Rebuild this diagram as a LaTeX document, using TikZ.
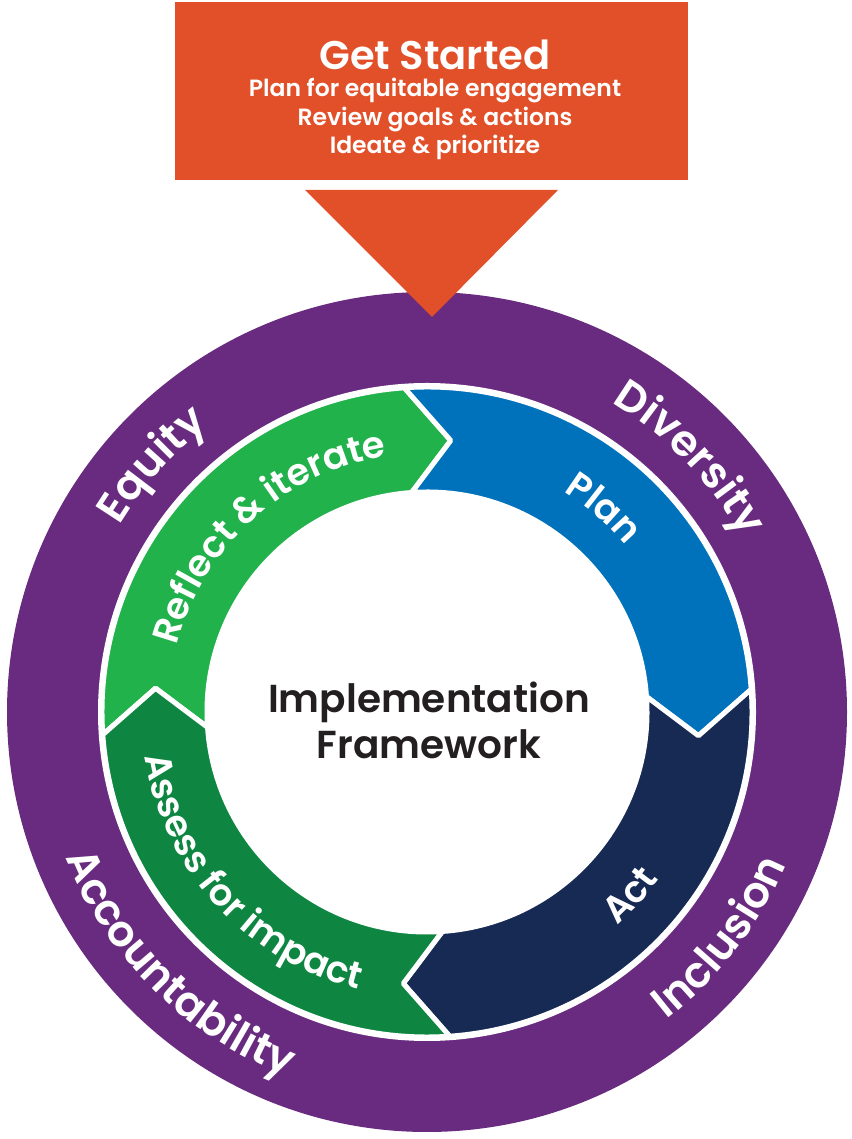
\documentclass[tikz,border=0pt]{standalone}
\usepackage{fontspec}
\setmainfont{Poppins}[BoldFont={Poppins SemiBold}]
\usetikzlibrary{decorations.text}

\definecolor{getorange}{HTML}{E2502A}
\definecolor{ringpurple}{HTML}{692B7F}
\definecolor{reflectgreen}{HTML}{22B24C}
\definecolor{planblue}{HTML}{0072BC}
\definecolor{actnavy}{HTML}{172A54}
\definecolor{assessgreen}{HTML}{0E8642}
\definecolor{titlegray}{HTML}{231F20}

\newcommand\ringfont{\bfseries\fontsize{43}{43}\selectfont}
\newcommand\stepfont{\bfseries\fontsize{37}{37}\selectfont}

\tikzset{
  segment/.style={draw=white, line width=5pt, line join=round},
  boxline/.style={text=white, font=\bfseries\fontsize{23.5}{23.5}\selectfont, anchor=base, inner sep=0pt},
  curved/.style={decorate, decoration={text along path, text align=center, text={#1}}}
}

\begin{document}
\begin{tikzpicture}[x=1pt, y=1pt]
  \useasboundingbox (0,0) rectangle (851,1139);
  \coordinate (C) at (427,427);

  % outer ring
  \fill[ringpurple] (C) circle[radius=420pt];
  \fill[white] (C) circle[radius=329pt];

  % get started box and arrow
  \node[fill=getorange, minimum width=513pt, minimum height=178pt, inner sep=0pt] (box) at (431.5,1048) {};
  \fill[getorange] (305,949) -- (558,949) -- (432,822) -- cycle;
  \node[boxline, font=\bfseries\fontsize{40}{40}\selectfont] (start) at (435,1069) {Get Started};
  \node[boxline] (engage) at (435,1042) {Plan for equitable engagement};
  \node[boxline] (review) at (435,1013) {Review goals \& actions};
  \node[boxline] (ideate) at (435,985) {Ideate \& prioritize};

  \begin{scope}[shift={(C)}]
    % the four arrows of the cycle
    \foreach \a/\b/\col in {184/94/reflectgreen, 94/4/planblue, 4/-86/actnavy, -86/-176/assessgreen}{
      \filldraw[segment, fill=\col] (\a:325pt) arc[start angle=\a, end angle=\b, radius=325pt]
        -- ({\b-9}:272.5pt) -- (\b:220pt) arc[start angle=\b, end angle=\a, radius=220pt]
        -- ({\a-9}:272.5pt) -- cycle;
    }

    % labels on the arrows
    \path[curved={|\color{white}\stepfont|Reflect {\&} iterate}] (205:259pt) arc[start angle=205, end angle=59, radius=259pt];
    \path[curved={|\color{white}\stepfont|Plan}] (100:259pt) arc[start angle=100, end angle=-2, radius=259pt];
    \path[curved={|\color{white}\stepfont|Act}] (-92:286pt) arc[start angle=-92, end angle=8, radius=286pt];
    \path[curved={|\color{white}\stepfont|Assess for impact}] (145:286pt) arc[start angle=145, end angle=300, radius=286pt];

    % labels on the ring
    \path[curved={|\color{white}\ringfont|Equity}] (192:360pt) arc[start angle=192, end angle=84, radius=360pt];
    \path[curved={|\color{white}\ringfont|Diversity}] (97:360pt) arc[start angle=97, end angle=-9, radius=360pt];
    \path[curved={|\color{white}\ringfont|Inclusion}] (-92:390pt) arc[start angle=-92, end angle=17, radius=390pt];
    \path[curved={|\color{white}\ringfont|Accountability}] (168:390pt) arc[start angle=168, end angle=283, radius=390pt];
  \end{scope}

  \node[text=titlegray, align=center, font=\bfseries\fontsize{39}{46}\selectfont] (title) at (429,419) {Implementation\\Framework};
\end{tikzpicture}
\end{document}
